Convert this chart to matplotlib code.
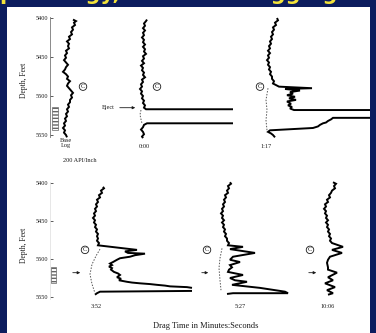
import numpy as np
import matplotlib.pyplot as plt
from matplotlib.patches import Rectangle

# depth ticks
depth_ticks = [5400, 5450, 5500, 5550]

# ---- top row: base log, 0:00, 1:17 ----
base_d = [5402, 5404, 5406, 5409, 5412, 5415, 5418, 5421, 5424, 5427, 5430, 5433, 5436, 5439,
          5442, 5445, 5448, 5451, 5454, 5457, 5460, 5463, 5466, 5469, 5472, 5475, 5478, 5481,
          5484, 5487, 5490, 5493, 5496, 5499, 5502, 5505, 5508, 5511, 5514, 5517, 5520, 5523,
          5526, 5529, 5532, 5535, 5538, 5541, 5544, 5547, 5550, 5553]
base_x = [73, 76, 74, 75, 72, 73, 71, 72, 69, 70, 67, 69, 68, 69, 66, 67, 65, 66, 64, 66, 68, 66,
          65, 63, 66, 68, 67, 70, 68, 67, 69, 71, 73, 71, 72, 70, 70, 68, 69, 67, 68, 66, 67, 65,
          66, 64, 65, 63, 65, 64, 66, 67]

t000_d1 = [5402, 5404, 5407, 5410, 5413, 5416, 5419, 5422, 5425, 5428, 5431, 5434, 5437, 5440,
           5443, 5446, 5449, 5452, 5455, 5458, 5461, 5464, 5467, 5470, 5473, 5476, 5479, 5482,
           5485, 5488, 5491, 5494, 5497, 5500, 5503, 5506, 5509, 5512, 5515, 5517, 5517]
t000_x1 = [147, 146, 144, 145, 143, 145, 143, 144, 142, 144, 143, 145, 143, 145, 144, 146, 143,
           144, 142, 144, 141, 143, 142, 144, 143, 145, 142, 143, 141, 142, 140, 142, 141, 143,
           142, 144, 143, 145, 144, 146, 233]
t000_d2 = [5535, 5535, 5537, 5540, 5543, 5546, 5549, 5552, 5554]
t000_x2 = [233, 147, 144, 143, 141, 143, 144, 142, 143]
t000_gap_d = [5518, 5524, 5530, 5535]
t000_gap_x = [141, 140, 141, 142]

t117_d1 = [5400, 5403, 5406, 5409, 5412, 5415, 5418, 5421, 5424, 5427, 5430, 5433, 5436, 5439,
           5442, 5445, 5448, 5451, 5454, 5457, 5460, 5463, 5466, 5469, 5472, 5475, 5478, 5481,
           5484, 5486, 5488, 5490, 5491, 5493, 5495, 5497, 5499, 5501, 5503, 5505, 5507, 5510,
           5512, 5514, 5516, 5518, 5518]
t117_x1 = [277, 278, 275, 276, 273, 274, 272, 273, 271, 272, 270, 271, 269, 270, 268, 270, 268,
           269, 267, 269, 268, 270, 269, 271, 270, 272, 272, 274, 273, 276, 279, 312, 285, 300,
           290, 293, 287, 295, 289, 296, 287, 291, 288, 292, 290, 294, 370]
t117_d2 = [5528, 5528, 5530, 5532, 5534, 5535, 5537, 5539, 5541, 5544, 5546, 5548, 5550, 5553]
t117_x2 = [372, 333, 331, 328, 326, 323, 320, 318, 313, 270, 268, 271, 273, 275]
t117_gap_d = [5490, 5505, 5518, 5531, 5544]
t117_gap_x = [268, 266, 267, 266, 267]

# ---- bottom row: 3:52, 5:27, 10:06 ----
t352_d1 = [5405, 5407, 5410, 5413, 5416, 5419, 5422, 5425, 5428, 5431, 5434, 5437, 5440, 5443,
           5446, 5449, 5452, 5455, 5458, 5461, 5464, 5467, 5470, 5473, 5476, 5479, 5482, 5488,
           5490, 5492, 5493, 5495, 5497, 5499, 5501, 5504, 5506, 5508, 5510, 5512, 5514, 5517,
           5519, 5521, 5524, 5526, 5528, 5530, 5531, 5532, 5533, 5534, 5535, 5536, 5537, 5538]
t352_x1 = [103, 104, 101, 102, 99, 100, 97, 98, 96, 97, 95, 96, 94, 95, 93, 95, 94, 96, 95, 97,
           96, 98, 97, 98, 97, 99, 98, 137, 125, 128, 145, 135, 130, 120, 117, 113, 110, 112,
           109, 112, 111, 114, 118, 120, 117, 121, 119, 127, 132, 140, 150, 157, 165, 170, 187, 192]
t352_d2 = [5542, 5543, 5545, 5547]
t352_x2 = [192, 100, 97, 95]
t352_gap_d = [5487, 5496, 5507, 5520, 5533, 5545]
t352_gap_x = [100, 96, 92, 90, 92, 95]

t527_d = [5399, 5401, 5404, 5407, 5410, 5413, 5416, 5419, 5422, 5425, 5428, 5431, 5434, 5437,
          5440, 5443, 5446, 5449, 5452, 5455, 5458, 5461, 5464, 5467, 5470, 5473, 5476, 5479,
          5482, 5484, 5487, 5492, 5497, 5501, 5504, 5508, 5511, 5514, 5517, 5521, 5525, 5528,
          5530, 5534, 5538, 5543, 5545, 5545, 5546]
t527_x = [230, 231, 228, 229, 227, 228, 225, 226, 224, 225, 223, 224, 222, 223, 221, 223, 222,
          224, 222, 224, 223, 225, 224, 226, 225, 227, 227, 229, 228, 243, 230, 255, 233, 230,
          240, 230, 232, 229, 228, 243, 230, 235, 247, 232, 260, 285, 288, 233, 227]
t527_gap_d = [5486, 5499, 5512, 5528, 5541]
t527_gap_x = [222, 220, 219, 220, 221]

t1006_d = [5399, 5401, 5404, 5407, 5410, 5413, 5416, 5419, 5422, 5425, 5428, 5431, 5434, 5437,
           5440, 5443, 5446, 5449, 5452, 5455, 5458, 5461, 5464, 5467, 5470, 5473, 5476, 5479,
           5484, 5488, 5492, 5497, 5501, 5505, 5511, 5514, 5518, 5524, 5528, 5532, 5537, 5541,
           5545, 5547]
t1006_x = [333, 336, 334, 335, 332, 331, 329, 330, 327, 328, 325, 326, 324, 326, 325, 327, 326,
           328, 326, 328, 327, 329, 328, 330, 329, 331, 330, 332, 343, 332, 342, 330, 328, 327,
           328, 328, 337, 328, 333, 325, 335, 327, 333, 328]

W, H = 376, 333
navy = '#0c1d5e'
ink = '#1a1a1a'
serif = 'Liberation Serif'

fig = plt.figure(figsize=(W / 100, H / 100), dpi=100)
fig.patch.set_facecolor(navy)
fig.patches.append(Rectangle((7 / W, 0), 363 / W, (H - 7) / H, transform=fig.transFigure,
                             facecolor='white', edgecolor='none', zorder=-10))

# yellow title, mostly cut off by the top edge
fig.text(0.0, 1 + 0.5 / H, 'petrology, Time and Logging Rate', color='#f2e33a', fontsize=15,
         fontweight='bold', family='DejaVu Sans', va='baseline', ha='left', zorder=-5)


def row_axes(y0, y1, d_of_y):
    ax = fig.add_axes([8 / W, 1 - y1 / H, 362 / W, (y1 - y0) / H])
    ax.set_facecolor('none')
    ax.set_xlim(8, 370)
    ax.set_ylim(d_of_y(y1), d_of_y(y0))
    for s in ['top', 'right', 'bottom']:
        ax.spines[s].set_visible(False)
    ax.spines['left'].set_position(('data', 50))
    ax.set_xticks([])
    ax.set_yticks(depth_ticks)
    ax.set_yticklabels([str(t) for t in depth_ticks], fontsize=4.5, family=serif, color=ink)
    ax.tick_params(axis='y', direction='in', length=2, width=0.5, pad=1.5, colors=ink)
    return ax


def log_line(ax, x, d):
    ax.plot(x, d, color='black', lw=1.4, solid_joinstyle='miter', solid_capstyle='butt')


def gap_line(ax, x, d):
    ax.plot(x, d, color='#555555', lw=0.7, linestyle=(0, (1.5, 1.5)))


def circ_c(ax, x, d):
    ax.text(x, d, 'C', fontsize=4.5, family=serif, ha='center', va='center', color=ink,
            bbox=dict(boxstyle='circle,pad=0.2', fc='white', ec=ink, lw=0.6))


def casing(ax, x0, x1, d0, d1):
    ax.add_patch(Rectangle((x0, d0), x1 - x0, d1 - d0, facecolor='white', edgecolor='#666666',
                           hatch='-----', lw=0.5))


# top row
top = row_axes(10, 142, lambda y: 5400 + (y - 18) / 0.78)
top.spines['left'].set_bounds(5399, 5553)
top.spines['left'].set_color('#777777')
top.spines['left'].set_linewidth(0.6)
log_line(top, base_x, base_d)
log_line(top, t000_x1, t000_d1)
log_line(top, t000_x2, t000_d2)
gap_line(top, t000_gap_x, t000_gap_d)
log_line(top, t117_x1, t117_d1)
log_line(top, t117_x2, t117_d2)
gap_line(top, t117_gap_x, t117_gap_d)
casing(top, 52, 58, 5514, 5544)
for cx in [83, 157, 260]:
    circ_c(top, cx, 5488)
top.annotate('', xy=(138, 5515), xytext=(117, 5515),
             arrowprops=dict(arrowstyle='-|>', lw=0.6, color=ink, mutation_scale=4))
top.text(115, 5515, 'Eject', fontsize=4.5, family=serif, ha='right', va='center', color=ink)

# bottom row
bot = row_axes(175, 300, lambda y: 5400 + (y - 183) / 0.76)
bot.spines['left'].set_bounds(5399, 5553)
bot.spines['left'].set_color('#dddddd')
bot.spines['left'].set_linewidth(0.5)
log_line(bot, t352_x1, t352_d1)
log_line(bot, t352_x2, t352_d2)
gap_line(bot, t352_gap_x, t352_gap_d)
log_line(bot, t527_x, t527_d)
gap_line(bot, t527_gap_x, t527_gap_d)
log_line(bot, t1006_x, t1006_d)
casing(bot, 51, 56, 5510, 5532)
for cx in [85, 207, 310]:
    circ_c(bot, cx, 5488)
for ax0, ax1 in [(70, 83), (199, 211), (306, 319)]:
    bot.annotate('', xy=(ax1, 5518), xytext=(ax0, 5518),
                 arrowprops=dict(arrowstyle='-|>', lw=0.6, color=ink, mutation_scale=4))

# labels
def ptext(x, y, s, size=4.5, **kw):
    fig.text(x / W, 1 - y / H, s, fontsize=size, family=serif, color=ink,
             ha='center', va='center', **kw)


ptext(24, 80, 'Depth, Feet', size=5.5, rotation=90)
ptext(24, 245, 'Depth, Feet', size=5.5, rotation=90)
ptext(66, 143, 'Base\nLog', linespacing=0.9)
ptext(80, 161, '200 API/Inch')
ptext(144, 147, '0:00')
ptext(266, 146, '1:17')
ptext(96, 306, '3:52')
ptext(240, 306, '5:27')
ptext(328, 306, '10:06')
ptext(206, 326, 'Drag Time in Minutes:Seconds', size=6)

fig.savefig('out.png', dpi=100, facecolor=fig.get_facecolor())
